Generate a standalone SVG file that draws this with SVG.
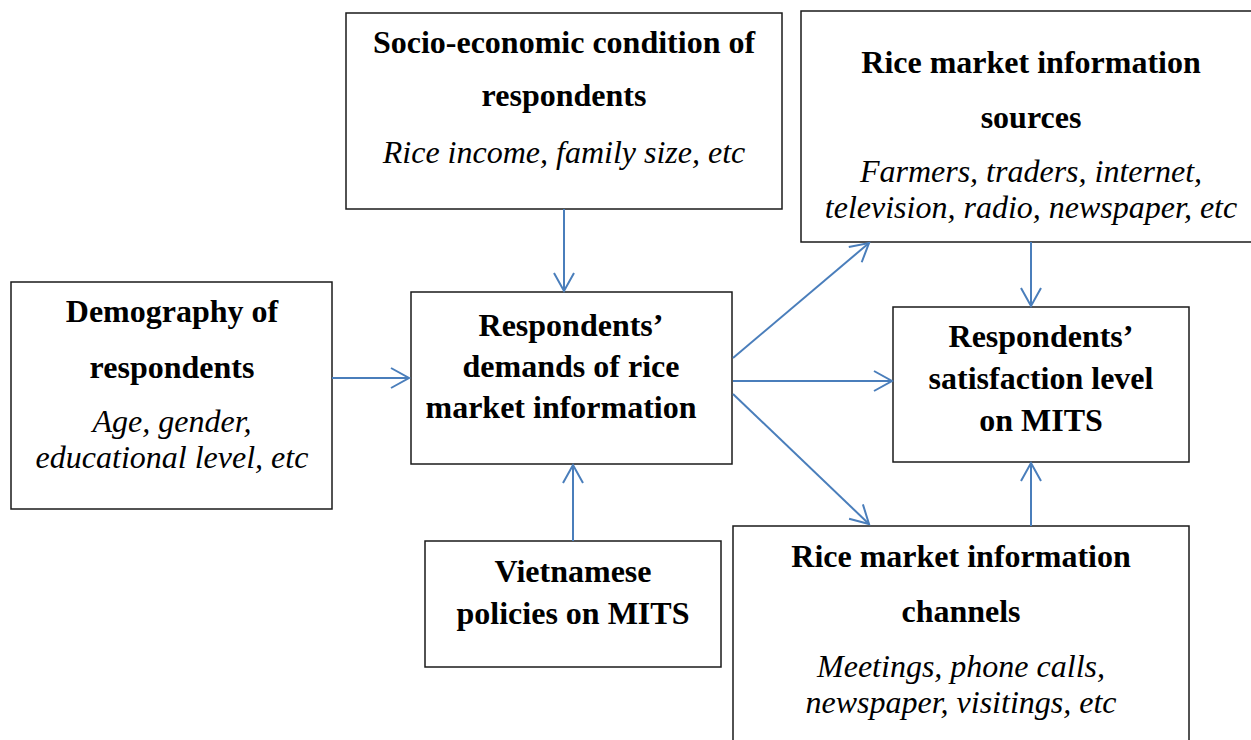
<svg xmlns="http://www.w3.org/2000/svg" width="1251" height="740" viewBox="0 0 1251 740">
  <style>
    .box { fill: #ffffff; stroke: #1a1a1a; stroke-width: 1.5; }
    .t { font-family: "Liberation Serif", "Times New Roman", serif; font-size: 32px; fill: #000; text-anchor: middle; }
    .b { font-weight: bold; }
    .i { font-style: italic; }
    .link { stroke: #4a7ebb; stroke-width: 2; fill: none; marker-end: url(#arrow); }
  </style>
  <defs>
    <marker id="arrow" markerUnits="userSpaceOnUse" markerWidth="24" markerHeight="24" viewBox="-20 -12 22 24" refX="0" refY="0" orient="auto">
      <path d="M-18,-10 L0,0 L-18,10" fill="none" stroke="#4a7ebb" stroke-width="2"/>
    </marker>
  </defs>

  <rect width="1251" height="740" fill="#ffffff"/>

  <g id="socio-economic">
    <rect class="box" x="346" y="13" width="436" height="196"/>
    <text class="t b" x="564" y="53">Socio-economic condition of</text>
    <text class="t b" x="564" y="106">respondents</text>
    <text class="t i" x="564" y="163">Rice income, family size, etc</text>
  </g>

  <g id="info-sources">
    <rect class="box" x="801" y="11" width="470" height="231"/>
    <text class="t b" x="1031" y="73">Rice market information</text>
    <text class="t b" x="1031" y="128">sources</text>
    <text class="t i" x="1031" y="182">Farmers, traders, internet,</text>
    <text class="t i" x="1031" y="218">television, radio, newspaper, etc</text>
  </g>

  <g id="demography">
    <rect class="box" x="11" y="282" width="321" height="227"/>
    <text class="t b" x="172" y="322">Demography of</text>
    <text class="t b" x="172" y="378">respondents</text>
    <text class="t i" x="172" y="432">Age, gender,</text>
    <text class="t i" x="172" y="468">educational level, etc</text>
  </g>

  <g id="demands">
    <rect class="box" x="411" y="292" width="321" height="172"/>
    <text class="t b" x="571" y="336">Respondents’</text>
    <text class="t b" x="571" y="377">demands of rice</text>
    <text class="t b" x="561" y="418">market information</text>
  </g>

  <g id="satisfaction">
    <rect class="box" x="893" y="307" width="296" height="155"/>
    <text class="t b" x="1041" y="347">Respondents’</text>
    <text class="t b" x="1041" y="389">satisfaction level</text>
    <text class="t b" x="1041" y="431">on MITS</text>
  </g>

  <g id="policies">
    <rect class="box" x="425" y="541" width="296" height="126"/>
    <text class="t b" x="573" y="582">Vietnamese</text>
    <text class="t b" x="573" y="624">policies on MITS</text>
  </g>

  <g id="info-channels">
    <rect class="box" x="733" y="526" width="456" height="230"/>
    <text class="t b" x="961" y="567">Rice market information</text>
    <text class="t b" x="961" y="622">channels</text>
    <text class="t i" x="961" y="677">Meetings, phone calls,</text>
    <text class="t i" x="961" y="713">newspaper, visitings, etc</text>
  </g>

  <g id="connectors">
    <line class="link" x1="332" y1="378" x2="409" y2="378"/>
    <line class="link" x1="564" y1="209" x2="564" y2="291"/>
    <line class="link" x1="573" y1="541" x2="573" y2="465"/>
    <line class="link" x1="1031" y1="242" x2="1031" y2="306"/>
    <line class="link" x1="1031" y1="526" x2="1031" y2="463"/>
    <line class="link" x1="733" y1="358" x2="869" y2="243"/>
    <line class="link" x1="733" y1="381" x2="892" y2="381"/>
    <line class="link" x1="733" y1="394" x2="869" y2="524"/>
  </g>
</svg>
